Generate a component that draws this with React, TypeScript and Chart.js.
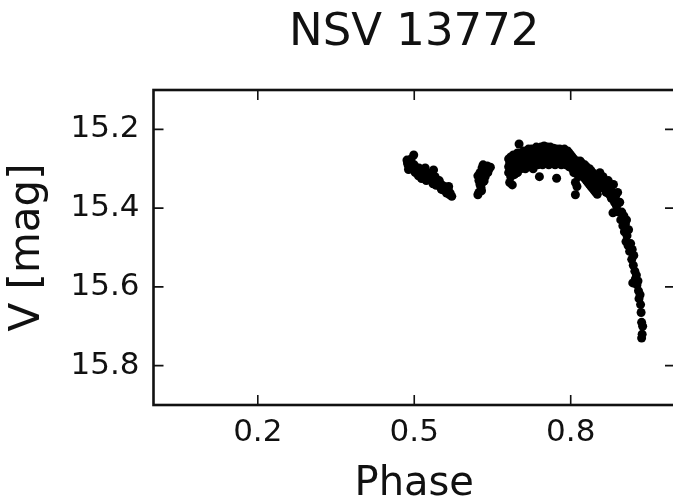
import React, { useEffect, useRef } from "react";
import { Chart, registerables } from "chart.js";

Chart.register(...registerables);

const chartTitle = "NSV 13772";
const xAxisTitle = "Phase";
const yAxisTitle = "V [mag]";
const xTickValues = [0.2, 0.5, 0.8];
const yTickValues = [15.2, 15.4, 15.6, 15.8];
const xRange = [0, 1.0];
const yRange = [15.1, 15.9];

// Cluster 1: declining branch (phase ~0.49-0.57)
const phase1 = [0.486, 0.487, 0.488, 0.489, 0.49, 0.491, 0.492, 0.494, 0.495, 0.497, 0.499, 0.5, 0.502, 0.503, 0.505, 0.506, 0.508, 0.509, 0.511, 0.512, 0.514, 0.515, 0.518, 0.52, 0.521, 0.523, 0.524, 0.527, 0.529, 0.53, 0.531, 0.534, 0.536, 0.537, 0.54, 0.542, 0.543, 0.545, 0.546, 0.548, 0.55, 0.552, 0.553, 0.556, 0.558, 0.56, 0.562, 0.563, 0.565, 0.566, 0.568, 0.569, 0.572];
const mag1 = [15.278, 15.285, 15.29, 15.302, 15.3, 15.292, 15.283, 15.275, 15.3, 15.295, 15.265, 15.29, 15.31, 15.303, 15.3, 15.311, 15.318, 15.298, 15.305, 15.315, 15.325, 15.307, 15.32, 15.31, 15.298, 15.33, 15.324, 15.328, 15.312, 15.32, 15.316, 15.328, 15.338, 15.303, 15.32, 15.342, 15.333, 15.34, 15.337, 15.33, 15.345, 15.352, 15.341, 15.354, 15.345, 15.35, 15.362, 15.358, 15.352, 15.345, 15.366, 15.362, 15.37];

// Cluster 2: short rising group (phase ~0.62-0.65)
const phase2 = [0.622, 0.624, 0.622, 0.624, 0.626, 0.628, 0.628, 0.63, 0.63, 0.632, 0.632, 0.634, 0.637, 0.64, 0.643, 0.646, 0.626, 0.629, 0.636, 0.641, 0.633, 0.625];
const mag2 = [15.366, 15.36, 15.318, 15.33, 15.31, 15.323, 15.348, 15.336, 15.298, 15.318, 15.29, 15.331, 15.306, 15.293, 15.302, 15.296, 15.34, 15.356, 15.32, 15.31, 15.305, 15.325];

// Cluster 3: maximum plateau (phase ~0.68-0.855)
const phase3 = [
  0.681, 0.681, 0.681, 0.683, 0.683, 0.685, 0.685, 0.685, 0.688, 0.688, 0.688, 0.69, 0.69,
  0.692, 0.692, 0.692, 0.695, 0.695, 0.695, 0.698, 0.698, 0.698, 0.701, 0.701, 0.701,
  0.704, 0.704, 0.704, 0.707, 0.707, 0.707, 0.71, 0.71, 0.71, 0.713, 0.713, 0.713,
  0.716, 0.716, 0.716, 0.719, 0.719, 0.719, 0.722, 0.722, 0.722, 0.725, 0.725, 0.725,
  0.728, 0.728, 0.728, 0.731, 0.731, 0.731, 0.734, 0.734, 0.734, 0.737, 0.737, 0.737,
  0.74, 0.74, 0.74, 0.743, 0.743, 0.743, 0.746, 0.746, 0.746, 0.749, 0.749, 0.749,
  0.752, 0.752, 0.752, 0.755, 0.755, 0.755, 0.758, 0.758, 0.758, 0.761, 0.761, 0.761,
  0.764, 0.764, 0.764, 0.767, 0.767, 0.767, 0.77, 0.77, 0.77, 0.773, 0.773, 0.773,
  0.776, 0.776, 0.776, 0.779, 0.779, 0.779, 0.782, 0.782, 0.782, 0.785, 0.785, 0.785,
  0.788, 0.788, 0.788, 0.791, 0.791, 0.791, 0.794, 0.794, 0.794, 0.797, 0.797, 0.797,
  0.8, 0.8, 0.8, 0.803, 0.803, 0.803, 0.806, 0.806, 0.806, 0.809, 0.809, 0.809, 0.809,
  0.812, 0.812, 0.812, 0.815, 0.815, 0.815, 0.818, 0.818, 0.818, 0.821, 0.821, 0.821,
  0.824, 0.824, 0.824, 0.827, 0.827, 0.827, 0.83, 0.83, 0.83, 0.833, 0.833, 0.833,
  0.836, 0.836, 0.836, 0.839, 0.839, 0.839, 0.842, 0.842, 0.842, 0.845, 0.845, 0.845,
  0.848, 0.848, 0.848, 0.851, 0.851, 0.851, 0.854, 0.854,
];
const mag3 = [
  15.275, 15.295, 15.31, 15.285, 15.335, 15.27, 15.3, 15.32, 15.28, 15.29, 15.341, 15.265, 15.305,
  15.275, 15.295, 15.315, 15.27, 15.285, 15.3, 15.26, 15.28, 15.31, 15.237, 15.27, 15.29,
  15.26, 15.275, 15.3, 15.265, 15.285, 15.295, 15.255, 15.27, 15.29, 15.26, 15.28, 15.3,
  15.255, 15.27, 15.285, 15.25, 15.265, 15.29, 15.26, 15.275, 15.295, 15.25, 15.27, 15.28,
  15.255, 15.265, 15.3, 15.25, 15.275, 15.285, 15.245, 15.26, 15.28, 15.255, 15.27, 15.29,
  15.25, 15.265, 15.32, 15.245, 15.26, 15.28, 15.25, 15.27, 15.29, 15.242, 15.26, 15.275,
  15.25, 15.265, 15.285, 15.245, 15.258, 15.28, 15.25, 15.27, 15.29, 15.245, 15.26, 15.275,
  15.25, 15.265, 15.285, 15.248, 15.26, 15.28, 15.255, 15.27, 15.29, 15.25, 15.265, 15.324,
  15.255, 15.27, 15.285, 15.25, 15.262, 15.28, 15.255, 15.27, 15.29, 15.258, 15.265, 15.275,
  15.25, 15.27, 15.285, 15.26, 15.275, 15.29, 15.255, 15.265, 15.28, 15.26, 15.275, 15.295,
  15.265, 15.28, 15.29, 15.27, 15.285, 15.3, 15.275, 15.29, 15.31, 15.28, 15.3, 15.335, 15.366,
  15.28, 15.295, 15.345, 15.285, 15.3, 15.32, 15.28, 15.295, 15.31, 15.285, 15.3, 15.315,
  15.29, 15.305, 15.32, 15.29, 15.31, 15.325, 15.295, 15.305, 15.33, 15.3, 15.315, 15.335,
  15.3, 15.32, 15.34, 15.305, 15.325, 15.345, 15.31, 15.33, 15.35, 15.315, 15.335, 15.355,
  15.32, 15.34, 15.36, 15.318, 15.345, 15.365, 15.325, 15.35,
];

// Cluster 4: steep descending branch (phase ~0.856-0.94)
const phase4 = [0.856, 0.858, 0.86, 0.862, 0.864, 0.866, 0.868, 0.87, 0.872, 0.874, 0.876, 0.878, 0.88, 0.882, 0.884, 0.886, 0.888, 0.89, 0.892, 0.894, 0.896, 0.898, 0.9, 0.902, 0.903, 0.905, 0.906, 0.908, 0.91, 0.911, 0.913, 0.915, 0.917, 0.918, 0.92, 0.921, 0.923, 0.924, 0.926, 0.927, 0.929, 0.93, 0.931, 0.933, 0.934, 0.935, 0.936, 0.938, 0.937, 0.936, 0.881, 0.907, 0.919];
const mag4 = [15.31, 15.33, 15.345, 15.32, 15.35, 15.335, 15.36, 15.34, 15.33, 15.365, 15.35, 15.375, 15.36, 15.34, 15.385, 15.37, 15.395, 15.36, 15.41, 15.385, 15.43, 15.41, 15.445, 15.42, 15.46, 15.44, 15.485, 15.47, 15.495, 15.455, 15.51, 15.49, 15.53, 15.505, 15.545, 15.52, 15.56, 15.58, 15.57, 15.595, 15.585, 15.61, 15.63, 15.62, 15.645, 15.665, 15.69, 15.7, 15.72, 15.73, 15.412, 15.43, 15.59];

const FONT = "'DejaVu Sans', sans-serif";
const INK = "#111111";

function toPoints(px: number[], py: number[]) {
  return px.map((x, i) => ({ x, y: py[i] }));
}

const framePlugin = {
  id: "frameAndTitle",
  afterDraw(chart: any) {
    const { ctx, chartArea, scales } = chart;
    const { left, right, top, bottom } = chartArea;
    ctx.save();
    ctx.strokeStyle = INK;
    ctx.lineWidth = 1.6;
    const tl = 10;
    scales.x.ticks.forEach((t: any) => {
      const px = scales.x.getPixelForValue(t.value);
      ctx.beginPath();
      ctx.moveTo(px, top);
      ctx.lineTo(px, top + tl);
      ctx.moveTo(px, bottom);
      ctx.lineTo(px, bottom - tl);
      ctx.stroke();
    });
    scales.y.ticks.forEach((t: any) => {
      const py = scales.y.getPixelForValue(t.value);
      ctx.beginPath();
      ctx.moveTo(left, py);
      ctx.lineTo(left + tl, py);
      ctx.moveTo(right, py);
      ctx.lineTo(right - tl, py);
      ctx.stroke();
    });
    ctx.lineWidth = 2.6;
    ctx.strokeRect(left, top, right - left, bottom - top);
    ctx.fillStyle = INK;
    ctx.font = `45px ${FONT}`;
    ctx.textAlign = "center";
    ctx.textBaseline = "alphabetic";
    ctx.fillText(chartTitle, (left + right) / 2, 45);
    ctx.restore();
  },
};

export default function App() {
  const canvasRef = useRef<HTMLCanvasElement | null>(null);

  useEffect(() => {
    if (!canvasRef.current) return;
    const points = [
      ...toPoints(phase1, mag1),
      ...toPoints(phase2, mag2),
      ...toPoints(phase3, mag3),
      ...toPoints(phase4, mag4),
    ];
    const chart = new Chart(canvasRef.current, {
      type: "scatter",
      data: {
        datasets: [
          {
            data: points,
            backgroundColor: "#000000",
            borderColor: "#000000",
            borderWidth: 0,
            pointRadius: 4.5,
            pointHoverRadius: 4.5,
          },
        ],
      },
      options: {
        animation: false,
        responsive: false,
        events: [],
        layout: { padding: { left: 0, right: 25, top: 90, bottom: 0 } },
        plugins: {
          legend: { display: false },
          tooltip: { enabled: false },
          title: { display: false },
        },
        scales: {
          x: {
            type: "linear",
            min: xRange[0],
            max: xRange[1],
            grid: { display: false, drawTicks: false },
            border: { display: false },
            afterBuildTicks: (s: any) => {
              s.ticks = xTickValues.map((v) => ({ value: v }));
            },
            afterFit: (s: any) => {
              s.height = 99;
            },
            ticks: {
              font: { family: FONT, size: 31 },
              color: INK,
              padding: 9,
              maxRotation: 0,
              autoSkip: false,
              callback: (v: any) => Number(v).toFixed(1),
            },
            title: {
              display: true,
              text: xAxisTitle,
              font: { family: FONT, size: 40 },
              color: INK,
              padding: { top: 0, bottom: -5 },
            },
          },
          y: {
            type: "linear",
            reverse: true,
            min: yRange[0],
            max: yRange[1],
            grid: { display: false, drawTicks: false },
            border: { display: false },
            afterBuildTicks: (s: any) => {
              s.ticks = yTickValues.map((v) => ({ value: v }));
            },
            afterFit: (s: any) => {
              s.width = 153.5;
            },
            ticks: {
              font: { family: FONT, size: 31 },
              color: INK,
              padding: 14,
              autoSkip: false,
              callback: (v: any) => Number(v).toFixed(1),
            },
            title: {
              display: true,
              text: yAxisTitle,
              font: { family: FONT, size: 42 },
              color: INK,
              padding: { top: 3, bottom: 0 },
            },
          },
        },
      },
      plugins: [framePlugin],
    });
    return () => chart.destroy();
  }, []);

  return (
    <div
      style={{
        position: "absolute",
        left: 0,
        top: 0,
        width: 673,
        height: 504,
        overflow: "hidden",
        background: "#ffffff",
      }}
    >
      <canvas ref={canvasRef} width={700} height={504} style={{ width: 700, height: 504, display: "block" }} />
    </div>
  );
}
